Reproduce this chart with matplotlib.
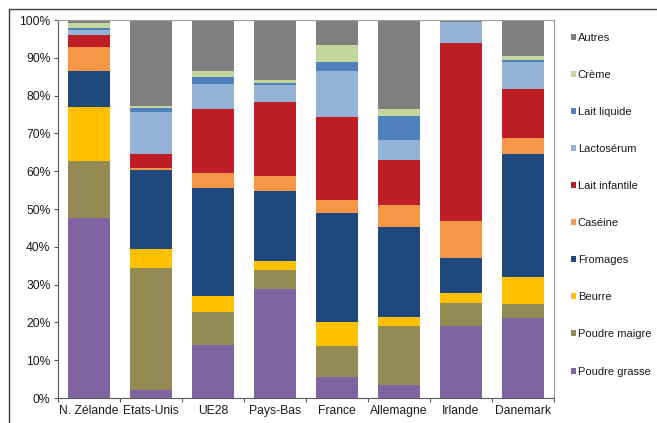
import numpy as np
import matplotlib
matplotlib.use("Agg")
import matplotlib.pyplot as plt
from matplotlib.patches import Rectangle, Patch
from matplotlib.ticker import FuncFormatter, FixedLocator

plt.rcParams["font.family"] = ["Liberation Sans", "DejaVu Sans"]

countries = ["N. Zélande", "Etats-Unis", "UE28", "Pays-Bas", "France",
             "Allemagne", "Irlande", "Danemark"]

# share of each product in dairy exports (%), bottom to top
poudre_grasse = [47.5, 2.1, 14.0, 28.8, 5.5, 3.4, 19.0, 21.1]
poudre_maigre = [15.2, 32.4, 8.8, 5.1, 8.3, 15.7, 6.2, 3.8]
beurre = [14.2, 4.8, 4.2, 2.4, 6.2, 2.4, 2.7, 7.0]
fromages = [9.7, 21.0, 28.6, 18.5, 28.9, 23.7, 9.1, 32.6]
caseine = [6.2, 0.5, 3.8, 4.0, 3.5, 5.9, 9.9, 4.3]
lait_infantile = [3.1, 3.7, 17.1, 19.4, 22.0, 11.9, 46.9, 12.9]
lactoserum = [1.5, 11.2, 6.6, 4.6, 12.1, 5.3, 5.6, 7.3]
lait_liquide = [0.6, 1.1, 1.7, 0.5, 2.4, 6.4, 0.0, 0.4]
creme = [1.2, 0.4, 1.8, 0.8, 4.5, 1.8, 0.0, 1.2]
autres = [0.8, 22.8, 13.4, 15.9, 6.6, 23.5, 0.6, 9.4]

series = [
    ("Poudre grasse", poudre_grasse, "#8064A2"),
    ("Poudre maigre", poudre_maigre, "#948A54"),
    ("Beurre", beurre, "#FFC000"),
    ("Fromages", fromages, "#1F497D"),
    ("Caséine", caseine, "#F79646"),
    ("Lait infantile", lait_infantile, "#BF1E26"),
    ("Lactosérum", lactoserum, "#95B3D7"),
    ("Lait liquide", lait_liquide, "#4F81BD"),
    ("Crème", creme, "#C3D69B"),
    ("Autres", autres, "#7F7F7F"),
]

fig = plt.figure(figsize=(6.57, 4.23), dpi=100)
ax = fig.add_axes([58 / 657, 25 / 423, 496 / 657, 378 / 423])

x = np.arange(len(countries))
bottom = np.zeros(len(countries))
handles = []
for name, vals, color in series:
    vals = np.array(vals)
    ax.bar(x, vals, width=0.67, bottom=bottom, color=color, linewidth=0)
    bottom += vals
    handles.append(Patch(facecolor=color, label=name))

ax.set_xlim(-0.5, len(countries) - 0.5)
ax.set_ylim(0, 100)
ax.set_yticks(np.arange(0, 101, 10))
ax.yaxis.set_major_formatter(FuncFormatter(lambda v, p: f"{v:.0f}%"))
ax.set_xticks(x)
ax.set_xticklabels(countries)
ax.xaxis.set_minor_locator(FixedLocator(np.arange(-0.5, len(countries), 1.0)))

txt = "#1a1a1a"
ax.tick_params(axis="y", length=3, width=0.8, pad=2.5, labelsize=8.7,
               colors="#595959", labelcolor=txt)
ax.tick_params(axis="x", which="major", length=0, pad=5, labelsize=8.7,
               labelcolor=txt)
ax.tick_params(axis="x", which="minor", length=3, width=0.8, color="#595959")

for side in ("top", "right"):
    ax.spines[side].set_color("#9a9a9a")
    ax.spines[side].set_linewidth(0.8)
for side in ("left", "bottom"):
    ax.spines[side].set_color("#595959")
    ax.spines[side].set_linewidth(0.8)

fig.legend(handles=handles[::-1], loc="upper left",
           bbox_to_anchor=(565 / 657, (423 - 27) / 423), frameon=False,
           fontsize=8.0, handlelength=0.45, handleheight=0.45,
           handletextpad=0.2, labelspacing=2.44, borderpad=0,
           labelcolor=txt)

# outer chart border
fig.add_artist(Rectangle((9 / 657, -0.1), 1.2, (423 - 9) / 423 + 0.1,
                         transform=fig.transFigure, fill=False,
                         edgecolor="#404040", linewidth=1.0))

fig.savefig("out.png", dpi=100)
